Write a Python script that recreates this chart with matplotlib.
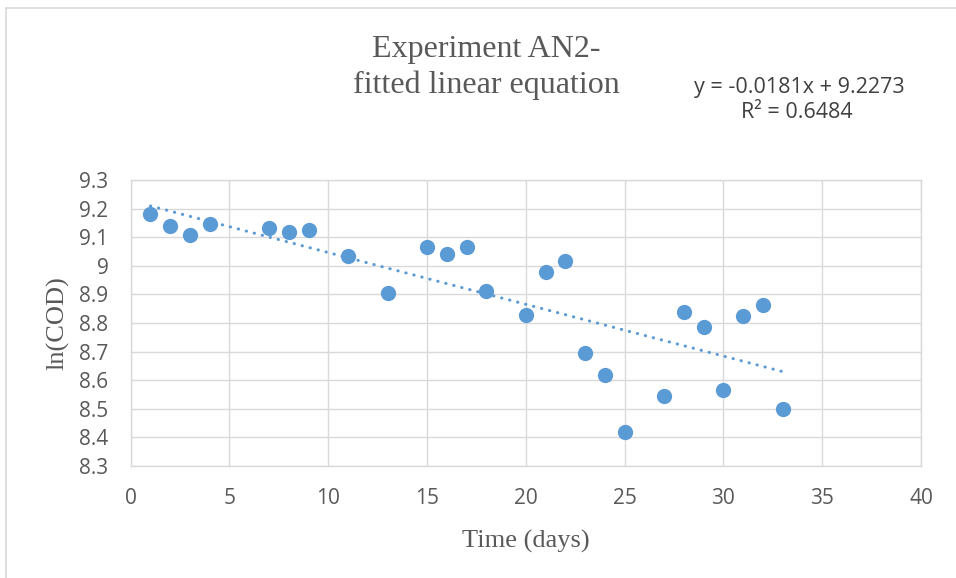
import matplotlib
matplotlib.use("Agg")
import matplotlib.pyplot as plt
from matplotlib import font_manager
from matplotlib.lines import Line2D
import numpy as np

# Measured ln(COD) over time
days = [1, 2, 3, 4, 7, 8, 9, 11, 13, 15, 16, 17, 18, 20, 21, 22, 23, 24, 25,
        27, 28, 29, 30, 31, 32, 33]
ln_cod = [9.182, 9.140, 9.108, 9.145, 9.132, 9.117, 9.124, 9.035, 8.904,
          9.065, 9.042, 9.066, 8.913, 8.829, 8.978, 9.017, 8.695, 8.618,
          8.418, 8.546, 8.838, 8.785, 8.566, 8.826, 8.863, 8.500]

# Linear trend reported on the chart
slope = -0.0181
intercept = 9.2273
r_squared = 0.6484

x_ticks = [0, 5, 10, 15, 20, 25, 30, 35, 40]
y_ticks = [8.3, 8.4, 8.5, 8.6, 8.7, 8.8, 8.9, 9.0, 9.1, 9.2, 9.3]
y_tick_labels = ["8.3", "8.4", "8.5", "8.6", "8.7", "8.8", "8.9", "9",
                 "9.1", "9.2", "9.3"]

available = {f.name for f in font_manager.fontManager.ttflist}
serif = "Liberation Serif"
sans = "Open Sans" if "Open Sans" in available else "Liberation Sans"

blue = "#5B9BD5"
grid_col = "#D9D9D9"
text_col = "#595959"

W, H = 956, 578
fig = plt.figure(figsize=(W / 100, H / 100), dpi=100)
fig.patch.set_facecolor("white")

ax = fig.add_axes([130.7 / W, (H - 466) / H, 790.3 / W, 286 / H])
ax.set_xlim(0, 40)
ax.set_ylim(8.3, 9.3)
ax.set_xticks(x_ticks)
ax.set_yticks(y_ticks)
ax.set_yticklabels(y_tick_labels)
ax.grid(True, color=grid_col, linewidth=1.0)
ax.set_axisbelow(True)
for s in ax.spines.values():
    s.set_color(grid_col)
    s.set_linewidth(1.0)
ax.tick_params(length=0, labelcolor=text_col, labelsize=15, pad=16)
for lab in ax.get_xticklabels() + ax.get_yticklabels():
    lab.set_fontfamily(sans)

# Trendline over the observed range (round dots)
tx = np.array([min(days), max(days)])
ax.plot(tx, slope * tx + intercept, color=blue, linewidth=2.2,
        linestyle=(0, (0.1, 2.6)), dash_capstyle="round", zorder=2)

ax.plot(days, ln_cod, linestyle="none", marker="o", markersize=11,
        markerfacecolor=blue, markeredgewidth=0, zorder=3)

ax.set_xlabel("Time (days)", fontfamily=serif, fontsize=19, color=text_col,
              labelpad=15)
ax.set_ylabel("ln(COD)", fontfamily=serif, fontsize=19, color=text_col,
              labelpad=7)

# Title
fig.text(486 / W, 1 - 57.3 / H, "Experiment AN2-", fontfamily=serif,
         fontsize=23, color=text_col, ha="center", va="baseline")
fig.text(486 / W, 1 - 92.7 / H, "fitted linear equation", fontfamily=serif,
         fontsize=23, color=text_col, ha="center", va="baseline")

# Trendline equation
fig.text(799 / W, 1 - 93 / H, f"y = {slope:.4f}x + {intercept:.4f}",
         fontfamily=sans, fontsize=15.5, color="#404040",
         ha="center", va="baseline")
fig.text(797 / W, 1 - 118 / H, f"R² = {r_squared:.4f}",
         fontfamily=sans, fontsize=15.5, color="#404040",
         ha="center", va="baseline")

# Chart-area border
fig.add_artist(Line2D([5.5 / W, 5.5 / W], [0, 1 - 7.5 / H],
                      transform=fig.transFigure, color=grid_col, linewidth=1.2))
fig.add_artist(Line2D([5.5 / W, 1], [1 - 7.5 / H, 1 - 7.5 / H],
                      transform=fig.transFigure, color=grid_col, linewidth=1.2))

fig.savefig("out.png", dpi=100)
